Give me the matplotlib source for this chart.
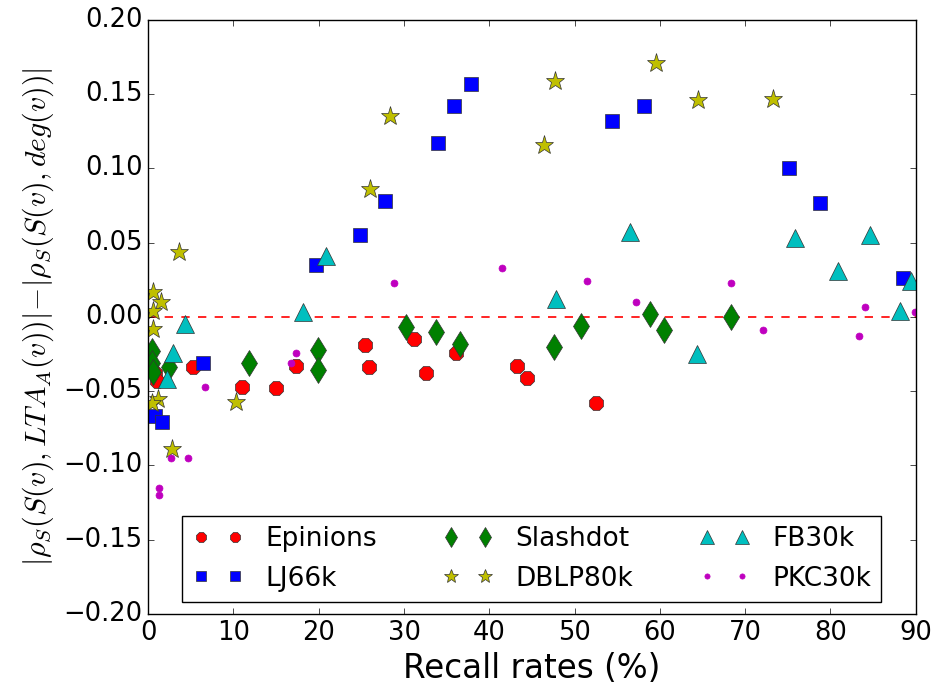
import matplotlib
matplotlib.use("Agg")
import matplotlib.pyplot as plt

plt.style.use("classic")

# recall rate (%) and correlation gain for each network
epinions_x = [0.8, 1.0, 5.3, 11.0, 15.0, 17.3, 25.4, 25.9, 31.2, 32.6, 36.1, 43.2, 44.4, 52.5]
epinions_y = [-0.038, -0.043, -0.034, -0.047, -0.048, -0.033, -0.019, -0.034, -0.015, -0.038,
              -0.024, -0.033, -0.041, -0.058]

lj_x = [0.8, 1.6, 6.4, 19.7, 24.8, 27.8, 34.0, 35.9, 37.8, 54.4, 58.1, 75.2, 78.8, 88.5]
lj_y = [-0.067, -0.071, -0.031, 0.035, 0.055, 0.078, 0.117, 0.142, 0.157, 0.132, 0.142,
        0.100, 0.077, 0.026]

slashdot_x = [0.5, 0.5, 0.6, 2.4, 11.8, 19.9, 19.9, 30.2, 33.7, 36.6, 47.6, 50.7, 58.9, 60.5, 68.3]
slashdot_y = [-0.023, -0.031, -0.037, -0.034, -0.031, -0.022, -0.036, -0.007, -0.010, -0.018,
              -0.020, -0.006, 0.002, -0.009, 0.000]

dblp_x = [0.6, 1.5, 0.6, 0.6, 3.6, 1.2, 0.5, 2.8, 10.3, 26.0, 28.4, 46.4, 47.7, 59.6, 64.5, 73.3]
dblp_y = [0.017, 0.010, 0.004, -0.008, 0.044, -0.055, -0.058, -0.089, -0.057, 0.086, 0.135,
          0.116, 0.159, 0.171, 0.146, 0.147]

fb_x = [2.2, 2.9, 4.3, 18.1, 20.9, 47.8, 56.5, 64.4, 75.9, 80.9, 84.6, 88.2, 89.4]
fb_y = [-0.042, -0.024, -0.005, 0.003, 0.041, 0.012, 0.057, -0.025, 0.053, 0.031, 0.055,
        0.004, 0.024]

pkc_x = [1.3, 1.3, 2.7, 4.7, 6.7, 16.8, 17.3, 28.8, 41.5, 51.4, 57.2, 68.4, 72.1, 83.4, 84.0, 89.9]
pkc_y = [-0.115, -0.120, -0.095, -0.095, -0.047, -0.031, -0.024, 0.023, 0.033, 0.024, 0.010,
         0.023, -0.009, -0.013, 0.007, 0.003]

yticks = [-0.2, -0.15, -0.1, -0.05, 0.0, 0.05, 0.1, 0.15, 0.2]

fig = plt.figure(figsize=(9.44, 6.86), dpi=100, facecolor="white")
ax = fig.add_axes([0.157, 0.105, 0.813, 0.866])

ax.plot([0, 90], [0, 0], "r--", lw=1.2)
ax.plot(epinions_x, epinions_y, "8", color="r", ms=11, mec="#333333", label="Epinions")
ax.plot(lj_x, lj_y, "s", color="b", ms=10, mec="#333333", label="LJ66k")
ax.plot(slashdot_x, slashdot_y, "d", color="g", ms=13, mec="#333333", label="Slashdot")
ax.plot(dblp_x, dblp_y, "*", color="y", ms=14, mec="#333333", label="DBLP80k")
ax.plot(fb_x, fb_y, "^", color="c", ms=13, mec="#333333", label="FB30k")
ax.plot(pkc_x, pkc_y, "o", color="m", ms=5, mec="m", label="PKC30k")

ax.set_xlim(0, 90)
ax.set_ylim(-0.2, 0.2)
ax.set_xticks(range(0, 91, 10))
ax.set_yticks(yticks)
ax.set_yticklabels([("%.2f" % v).replace("-", "\u2212") for v in yticks])
ax.tick_params(labelsize=18.5)
ax.set_xlabel("Recall rates (%)", fontsize=23.5)
ax.set_ylabel(r"$|\rho_S(S(v),LTA_A(v))|\!-\!|\rho_S(S(v),deg(v))|$", fontsize=21.5)

ax.legend(loc="lower center", ncol=3, numpoints=2, fontsize=19, markerscale=0.75,
          handlelength=1.9, handletextpad=0.85, columnspacing=2.5, borderaxespad=0.45,
          labelspacing=0.5, borderpad=0.4)

fig.savefig("out.png", dpi=100, facecolor="white")
